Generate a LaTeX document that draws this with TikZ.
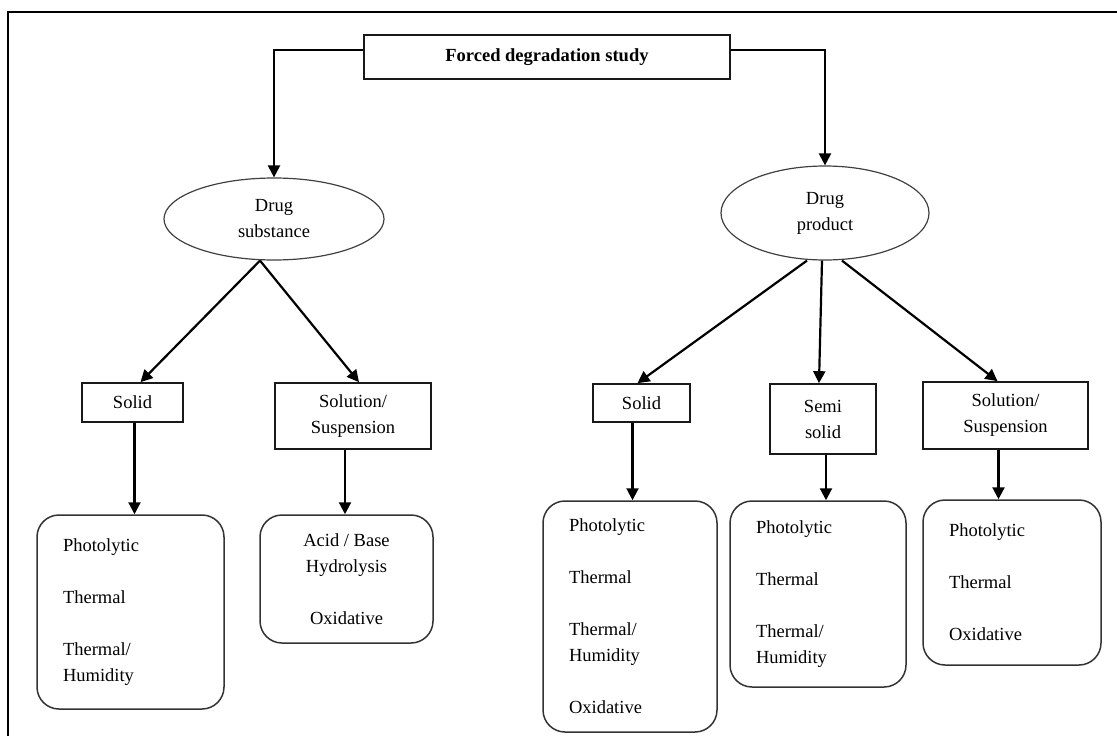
\documentclass[tikz,border=0pt]{standalone}
\usepackage{fontspec}
\setmainfont{Liberation Serif}
\usetikzlibrary{shapes.geometric,arrows.meta,calc}
\begin{document}
\begin{tikzpicture}[x=1pt,y=-1pt,
  every node/.style={font=\fontsize{18.5}{26}\selectfont, inner sep=0pt},
  box/.style={draw=black!90, line width=1.7pt, align=center},
  oval/.style={ellipse, draw=black!75, line width=1.2pt, align=center},
  res/.style={draw=black!80, line width=1.5pt, rounded corners=22pt, align=left, inner xsep=26pt},
  resc/.style={draw=black!80, line width=1.5pt, rounded corners=22pt, align=center},
  arr/.style={line width=2.2pt, -{Triangle[length=12pt,width=12pt]}},
]
\useasboundingbox (0,0) rectangle (1117,736);

% page frame (left and top edges)
\draw[line width=2.4pt] (8,736) -- (8,12) -- (1117,12);

% root
\node[box, minimum width=366pt, minimum height=44pt, font=\fontsize{18.5}{26}\selectfont\bfseries]
  (root) at (547,57) {Forced degradation study};

% second level
\node[oval, minimum width=220pt, minimum height=82pt] (ds) at (274,219) {Drug\\substance};
\node[oval, minimum width=208pt, minimum height=94pt] (dp) at (825,213) {Drug\\product};

% drug substance forms
\node[box, minimum width=101pt, minimum height=39pt] (ls) at (132.5,402.5) {Solid};
\node[box, minimum width=156pt, minimum height=66pt] (lss) at (353,416) {Solution/\\Suspension};

% drug product forms
\node[box, minimum width=97pt, minimum height=38pt] (rs) at (641.5,403) {Solid};
\node[box, minimum width=106pt, minimum height=70pt] (rm) at (823,419) {Semi\\solid};
\node[box, minimum width=165pt, minimum height=67pt] (rss) at (1005.5,415.5) {Solution/\\Suspension};

% stress conditions
\node[res, text width=135pt, minimum height=194pt] (lb) at (130.5,612)
  {Photolytic\\[26pt]Thermal\\[26pt]Thermal/\\Humidity};
\node[resc, minimum width=173pt, minimum height=128pt] (la) at (346.5,579)
  {Acid / Base\\Hydrolysis\\[26pt]Oxidative};
\node[res, text width=122pt, minimum height=231pt] (rsb) at (630,616.5)
  {Photolytic\\[26pt]Thermal\\[26pt]Thermal/\\Humidity\\[26pt]Oxidative};
\node[res, text width=124pt, minimum height=186pt] (rmb) at (818,594)
  {Photolytic\\[26pt]Thermal\\[26pt]Thermal/\\Humidity};
\node[res, text width=126pt, minimum height=165pt] (rssb) at (1012,582.5)
  {Photolytic\\[26pt]Thermal\\[26pt]Oxidative};

% connectors
\draw[arr] ([yshift=7pt]root.west) -| (ds.north);
\draw[arr] ([yshift=7pt]root.east) -| (dp.north);

\draw[arr] ([xshift=-14pt]ds.south) -- ([xshift=8pt]ls.north);
\draw[arr] ([xshift=-14pt]ds.south) -- ([xshift=6pt]lss.north);

\draw[arr] ([xshift=-18pt]dp.south) -- ([xshift=-4pt]rs.north);
\draw[arr] ([xshift=-3pt]dp.south) -- ([xshift=-4pt]rm.north);
\draw[arr] ([xshift=17pt]dp.south) -- ([xshift=-8pt]rss.north);

\draw[arr] ([xshift=2pt]ls.south) -- ([xshift=2pt]ls.south |- lb.north);
\draw[arr] ([xshift=-8pt]lss.south) -- ([xshift=-8pt]lss.south |- la.north);
\draw[arr] ([xshift=-9pt]rs.south) -- ([xshift=-9pt]rs.south |- rsb.north);
\draw[arr] ([xshift=3pt]rm.south) -- ([xshift=3pt]rm.south |- rmb.north);
\draw[arr] ([xshift=-7pt]rss.south) -- ([xshift=-7pt]rss.south |- rssb.north);
\end{tikzpicture}
\end{document}
